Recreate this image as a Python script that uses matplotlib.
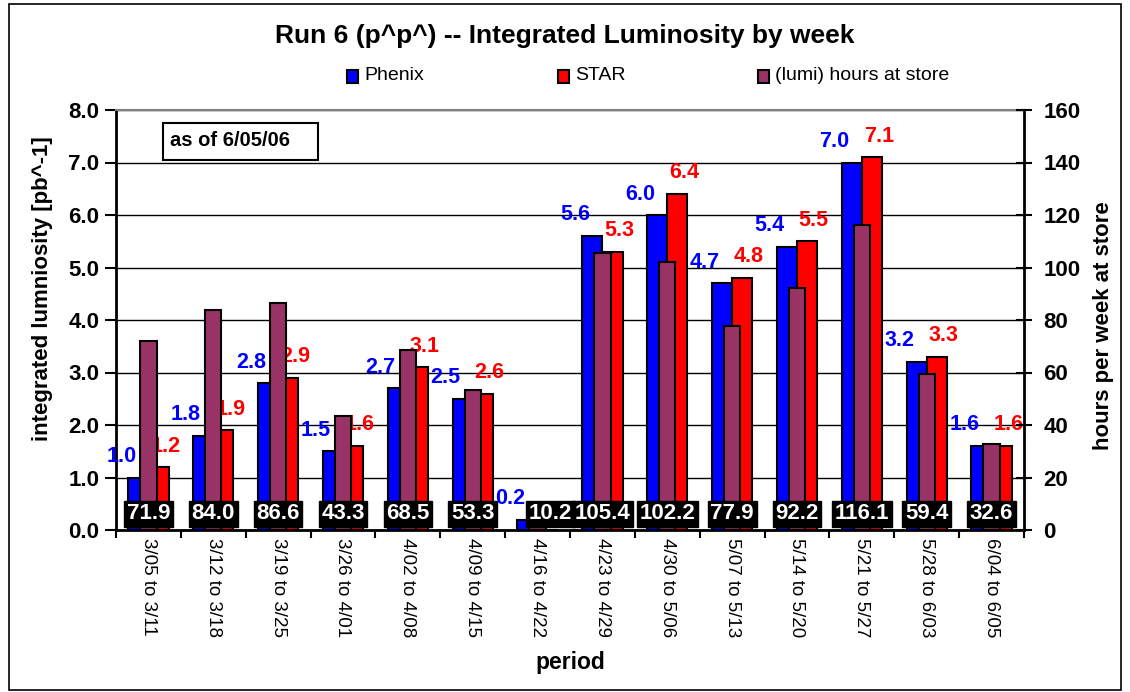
import numpy as np
import matplotlib
matplotlib.use("Agg")
import matplotlib.pyplot as plt
from matplotlib.patches import Rectangle

periods = ["3/05 to 3/11", "3/12 to 3/18", "3/19 to 3/25", "3/26 to 4/01",
           "4/02 to 4/08", "4/09 to 4/15", "4/16 to 4/22", "4/23 to 4/29",
           "4/30 to 5/06", "5/07 to 5/13", "5/14 to 5/20", "5/21 to 5/27",
           "5/28 to 6/03", "6/04 to 6/05"]
phenix = [1.0, 1.8, 2.8, 1.5, 2.7, 2.5, 0.2, 5.6, 6.0, 4.7, 5.4, 7.0, 3.2, 1.6]
star = [1.2, 1.9, 2.9, 1.6, 3.1, 2.6, np.nan, 5.3, 6.4, 4.8, 5.5, 7.1, 3.3, 1.6]
hours = [71.9, 84.0, 86.6, 43.3, 68.5, 53.3, 10.2, 105.4, 102.2, 77.9, 92.2, 116.1, 59.4, 32.6]

plt.rcParams['font.family'] = ['Liberation Sans', 'DejaVu Sans']

W, H = 1130, 692
fig = plt.figure(figsize=(W / 100, H / 100), dpi=100)
ax = fig.add_axes([116 / W, 1 - 530 / H, (1024 - 116) / W, (530 - 110) / H])
ax2 = ax.twinx()

x = np.arange(len(periods)) + 0.5
bw = 0.31
ax.bar(x - bw / 2, phenix, width=bw, color='#0000FF', edgecolor='black', linewidth=1.5, zorder=3)
ax.bar(x + bw / 2, np.nan_to_num(star), width=bw, color='#FF0000', edgecolor='black', linewidth=1.5, zorder=3)
ax2.bar(x, hours, width=0.25, color='#993366', edgecolor='black', linewidth=1.5, zorder=3)

ax.set_xlim(0, len(periods))
ax.set_ylim(0, 8)
ax2.set_ylim(0, 160)

# value labels
for xi, p, s in zip(x, phenix, star):
    ax.text(xi - 0.42, p + 0.4, f"{p:.1f}", color='#0000FF', fontsize=15.5,
            fontweight='bold', ha='center', va='center', zorder=5)
    if not np.isnan(s):
        ax.text(xi + 0.26, s + 0.4, f"{s:.1f}", color='#FF0000', fontsize=15.5,
                fontweight='bold', ha='center', va='center', zorder=5)
for xi, h, s in zip(x, hours, star):
    dx = 0.2 if np.isnan(s) else 0.0
    ax2.text(xi + dx, 6.2, f"{h:.1f}", color='white', fontsize=16, fontweight='bold',
             ha='center', va='center', zorder=6,
             bbox=dict(boxstyle='square,pad=0.12', facecolor='black', edgecolor='black'))

# grid
ax.set_yticks(np.arange(0, 8.01, 1.0))
ax.set_yticklabels([f"{v:.1f}" for v in np.arange(0, 8.01, 1.0)], fontsize=16, fontweight='bold')
ax.yaxis.grid(True, color='black', linewidth=1.0, zorder=0)
ax.set_axisbelow(True)
ax.tick_params(axis='y', direction='out', length=8, width=1.5, pad=4)

ax2.set_yticks(np.arange(0, 161, 20))
ax2.set_yticklabels([str(v) for v in range(0, 161, 20)], fontsize=16, fontweight='bold')
ax2.tick_params(axis='y', direction='inout', length=12, width=1.5, pad=8)

ax.set_xticks(np.arange(0, len(periods) + 1))
ax.set_xticklabels([])
ax.set_xticks(x, minor=True)
ax.set_xticklabels(periods, minor=True, rotation=270, fontsize=13.5, va='top', ha='center')
ax.tick_params(axis='x', which='major', direction='out', length=6, width=1.5)
ax.tick_params(axis='x', which='minor', length=0, pad=6)

for sp in ['left', 'bottom']:
    ax.spines[sp].set_linewidth(2)
ax.spines['top'].set_color('#808080')
ax.spines['top'].set_linewidth(1.5)
ax.spines['right'].set_visible(False)
ax2.spines['right'].set_linewidth(2)
ax2.spines['top'].set_visible(False)
ax2.spines['left'].set_visible(False)
ax2.spines['bottom'].set_visible(False)

ax.set_ylabel("integrated lumniosity [pb^-1]", fontsize=16, fontweight='bold')
ax.yaxis.set_label_coords((53 - 116) / 908, (530 - 289) / 420)
ax2.set_ylabel("hours per week at store", fontsize=16, fontweight='bold')
ax2.yaxis.set_label_coords((1093 - 116) / 908, (530 - 326) / 420)
fig.text(570 / W, 1 - 663 / H, "period", fontsize=16.5, fontweight='bold', ha='center', va='center')

fig.text(565 / W, 1 - 36 / H, "Run 6 (p^p^) -- Integrated Luminosity by week",
         fontsize=19, fontweight='bold', ha='center', va='center')

# legend (manual)
leg = [("Phenix", '#0000FF', 347), ("STAR", '#FF0000', 558), ("(lumi) hours at store", '#993366', 758)]
for lab, col, px in leg:
    fig.patches.append(Rectangle((px / W, 1 - 83 / H), 11 / W, 13 / H, transform=fig.transFigure,
                                 facecolor=col, edgecolor='black', linewidth=1.5))
    fig.text((px + 17) / W, 1 - 76 / H, lab, fontsize=14, ha='left', va='center')

# "as of" box
fig.patches.append(Rectangle((163 / W, 1 - 160 / H), 155 / W, 37 / H, transform=fig.transFigure,
                             facecolor='white', edgecolor='black', linewidth=1.5, zorder=10))
fig.text(170 / W, 1 - 141 / H, "as of 6/05/06", fontsize=14.5, fontweight='bold',
         ha='left', va='center', zorder=11)

# figure border
fig.patches.append(Rectangle((9 / W, 2 / H), 1112 / W, 686 / H, transform=fig.transFigure,
                             facecolor='none', edgecolor='black', linewidth=1.2))

fig.savefig("out.png", dpi=100)
